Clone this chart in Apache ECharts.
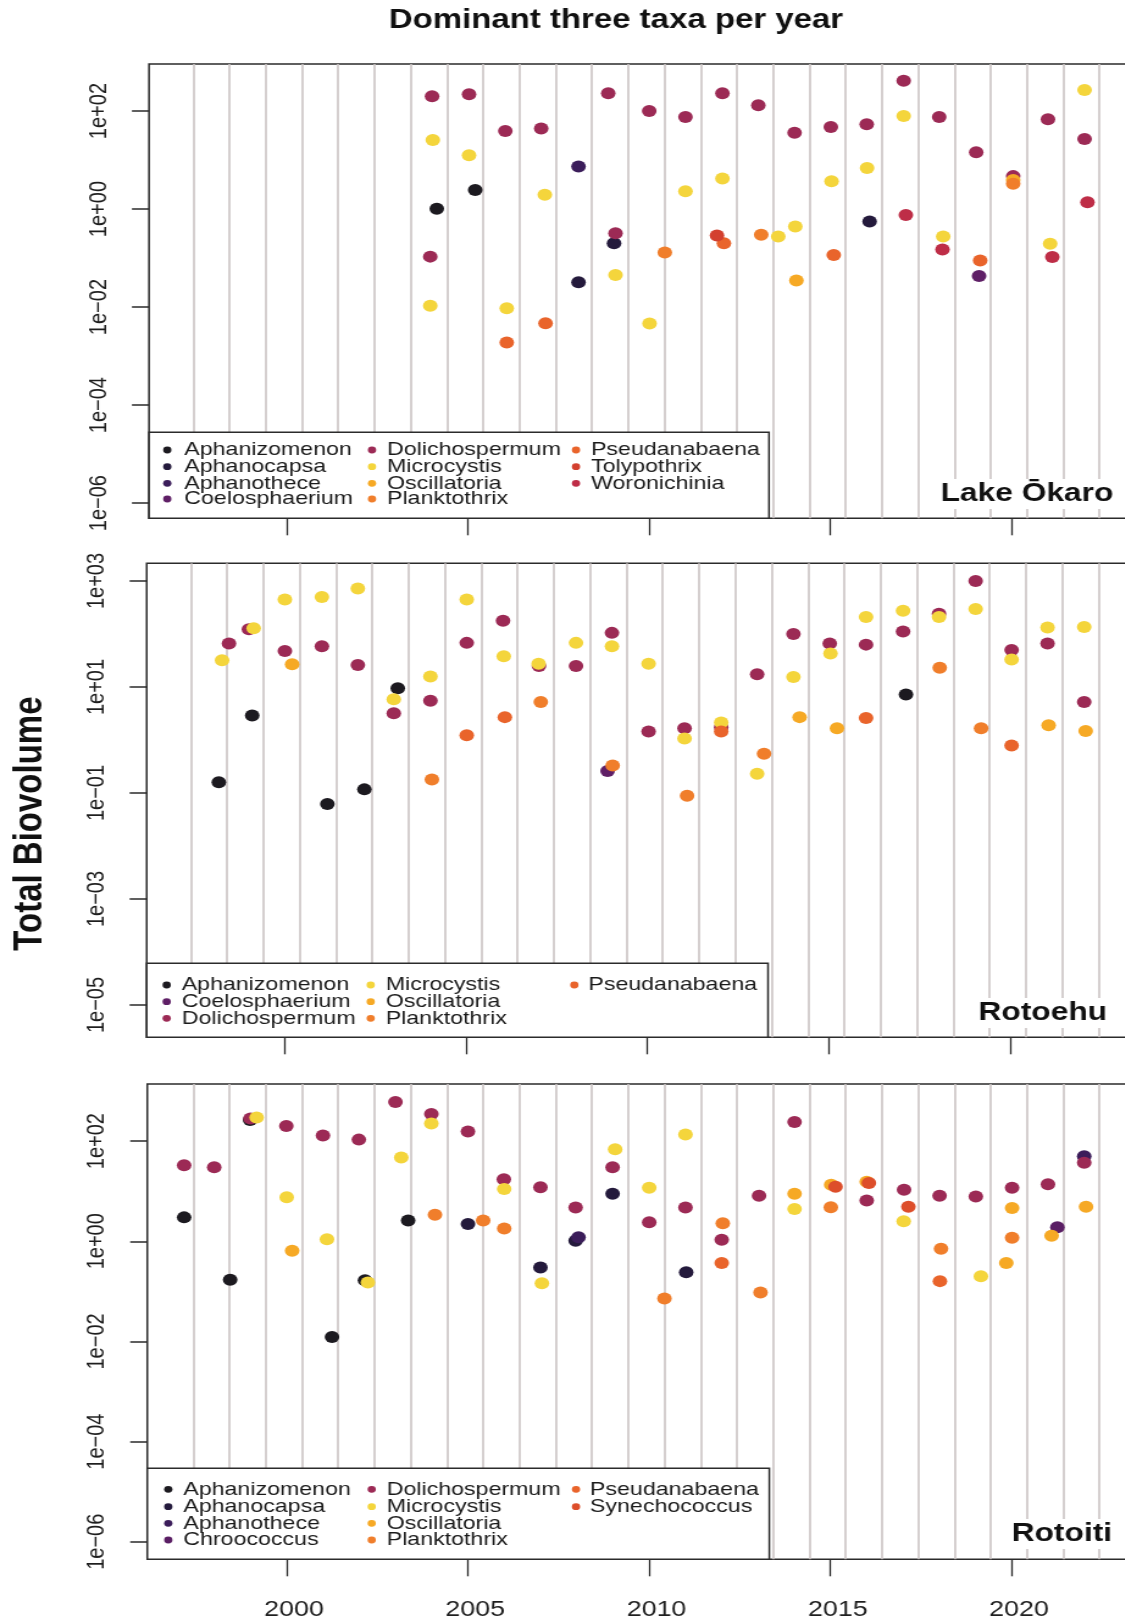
<!DOCTYPE html>
<html>
<head>
<meta charset="utf-8">
<script src="https://cdn.jsdelivr.net/npm/echarts@6/dist/echarts.min.js"></script>
<style>
  html, body { margin: 0; padding: 0; background: #fff; overflow: hidden; width: 1125px; height: 1624px; }
  #chart { position: absolute; left: 0; top: 0; height: 1624px; transform-origin: 0 0; }
</style>
</head>
<body>
<div id="chart"></div>
<script>
// ---------------- data: [year position, total biovolume] ----------------
const yearTicks = [2000, 2005, 2010, 2015, 2020];
const okaroTicks = [1e-6, 1e-4, 1e-2, 1, 1e2];
const rotoehuTicks = [1e-5, 1e-3, 1e-1, 10, 1e3];
const rotoitiTicks = [1e-6, 1e-4, 1e-2, 1, 1e2];

// Lake Ōkaro
const okaroAphanizomenon = [[2004.14, 1.02], [2005.2, 2.45]];
const okaroAphanocapsa = [[2008.05, 0.032], [2009.03, 0.2], [2016.08, 0.56]];
const okaroAphanothece = [[2008.05, 7.4]];
const okaroCoelosphaerium = [[2019.1, 0.043]];
const okaroDolichospermum = [[2004.01, 200], [2005.03, 220], [2006.03, 39], [2007.02, 44], [2008.87, 230],
  [2003.96, 0.107], [2009.07, 0.32], [2010.0, 100], [2011.0, 76], [2012.02, 230], [2013.01, 132],
  [2014.01, 36], [2015.01, 47], [2016.0, 54], [2017.02, 417], [2018.0, 76], [2019.02, 14.5],
  [2020.04, 4.7], [2021.0, 68], [2022.01, 27]];
const okaroMicrocystis = [[2004.03, 25.7], [2005.03, 12.6], [2007.12, 1.95], [2009.07, 0.045], [2003.96, 0.0107],
  [2006.07, 0.0095], [2010.01, 0.0046], [2011.0, 2.3], [2012.02, 4.2], [2013.56, 0.275], [2014.03, 0.44],
  [2015.03, 3.7], [2016.01, 6.9], [2017.02, 79], [2018.11, 0.275], [2021.06, 0.195], [2022.01, 270]];
const okaroOscillatoria = [[2014.06, 0.035], [2020.04, 3.9]];
const okaroPlanktothrix = [[2010.43, 0.13], [2013.09, 0.3], [2020.04, 3.3]];
const okaroPseudanabaena = [[2006.07, 0.0019], [2007.14, 0.0047], [2012.06, 0.2], [2015.09, 0.115], [2019.13, 0.089]];
const okaroTolypothrix = [[2011.87, 0.29]];
const okaroWoronichinia = [[2017.08, 0.76], [2018.09, 0.15], [2021.12, 0.105], [2022.09, 1.38]];

// Rotoehu
const rotoehuAphanizomenon = [[1998.19, 0.16], [1999.11, 2.9], [2001.18, 0.062], [2002.2, 0.117], [2003.12, 9.5], [2017.12, 7.2]];
const rotoehuCoelosphaerium = [[2008.9, 0.26]];
const rotoehuDolichospermum = [[1998.47, 66], [1999.02, 123], [2000.01, 48], [2001.03, 59], [2002.02, 26],
  [2003.01, 3.2], [2004.02, 5.5], [2005.02, 68], [2006.02, 178], [2007.01, 25], [2008.03, 25],
  [2009.02, 105], [2010.03, 1.45], [2011.02, 1.66], [2012.03, 1.74], [2013.02, 17.4], [2014.02, 100],
  [2015.02, 66], [2016.02, 63], [2017.04, 112], [2018.03, 240], [2019.04, 1000], [2020.03, 50],
  [2021.02, 66], [2022.03, 5.2]];
const rotoehuMicrocystis = [[1998.28, 32], [1999.15, 129], [2000.01, 447], [2001.03, 500], [2002.02, 724],
  [2003.01, 5.9], [2004.02, 15.8], [2005.02, 447], [2006.04, 38], [2007.0, 27.5], [2008.03, 68],
  [2009.02, 59], [2010.03, 27.5], [2011.02, 1.07], [2012.03, 2.14], [2013.02, 0.23], [2014.02, 15.5],
  [2015.04, 43], [2016.02, 209], [2017.04, 275], [2018.03, 209], [2019.04, 295], [2020.03, 33],
  [2021.02, 132], [2022.03, 135]];
const rotoehuOscillatoria = [[2000.21, 27], [2014.19, 2.7], [2015.22, 1.66], [2021.05, 1.9], [2022.07, 1.48]];
const rotoehuPlanktothrix = [[2004.06, 0.18], [2007.06, 5.2], [2009.04, 0.33], [2011.09, 0.089], [2013.21, 0.55],
  [2018.05, 23], [2019.19, 1.66]];
const rotoehuPseudanabaena = [[2005.02, 1.23], [2006.07, 2.7], [2012.03, 1.45], [2016.02, 2.6], [2020.03, 0.79]];

// Rotoiti
const rotoitiAphanizomenon = [[1997.17, 3.0], [1998.44, 0.17], [1998.99, 263], [2001.25, 0.0123], [2002.16, 0.166], [2003.35, 2.6]];
const rotoitiAphanocapsa = [[2005.0, 2.2], [2007.0, 0.3], [2007.97, 1.02], [2008.99, 8.9], [2011.02, 0.24]];
const rotoitiAphanothece = [[2008.05, 1.2], [2022.0, 50]];
const rotoitiChroococcus = [[2021.26, 1.9]];
const rotoitiDolichospermum = [[1997.17, 33], [1998.0, 30], [1999.0, 282], [1999.99, 200], [2001.0, 129],
  [2001.99, 107], [2003.0, 603], [2003.99, 347], [2005.0, 155], [2005.99, 17.4], [2007.0, 12],
  [2007.97, 4.7], [2008.99, 30], [2010.0, 2.4], [2011.0, 4.7], [2012.0, 1.07], [2013.03, 8.1],
  [2014.01, 240], [2016.0, 6.5], [2017.03, 10.7], [2018.01, 8.1], [2019.01, 7.8], [2020.01, 11.7],
  [2021.0, 13.8], [2022.0, 37]];
const rotoitiMicrocystis = [[1999.17, 295], [2000.0, 7.6], [2001.11, 1.1], [2002.24, 0.15], [2003.16, 47],
  [2003.99, 224], [2006.0, 11], [2007.04, 0.145], [2009.06, 69], [2010.0, 11.7], [2011.0, 135],
  [2014.01, 4.4], [2017.02, 2.5], [2019.15, 0.2]];
const rotoitiOscillatoria = [[2000.15, 0.65], [2014.01, 8.9], [2015.02, 13.5], [2016.0, 15.5], [2019.85, 0.37],
  [2020.01, 4.6], [2021.1, 1.29], [2022.05, 4.9]];
const rotoitiPlanktothrix = [[2004.09, 3.4], [2005.42, 2.6], [2006.0, 1.8], [2010.42, 0.072], [2012.03, 2.3],
  [2013.07, 0.095], [2015.01, 4.8], [2018.05, 0.71], [2020.01, 1.17]];
const rotoitiPseudanabaena = [[2012.0, 0.37], [2018.02, 0.16]];
const rotoitiSynechococcus = [[2015.14, 12.3], [2016.06, 14.5], [2017.15, 4.9]];

// taxa in legend order (column-major) for each lake
const okaroTaxa = [
  ['Aphanizomenon', okaroAphanizomenon], ['Aphanocapsa', okaroAphanocapsa], ['Aphanothece', okaroAphanothece],
  ['Coelosphaerium', okaroCoelosphaerium], ['Dolichospermum', okaroDolichospermum], ['Microcystis', okaroMicrocystis],
  ['Oscillatoria', okaroOscillatoria], ['Planktothrix', okaroPlanktothrix], ['Pseudanabaena', okaroPseudanabaena],
  ['Tolypothrix', okaroTolypothrix], ['Woronichinia', okaroWoronichinia]];
const rotoehuTaxa = [
  ['Aphanizomenon', rotoehuAphanizomenon], ['Coelosphaerium', rotoehuCoelosphaerium], ['Dolichospermum', rotoehuDolichospermum],
  ['Microcystis', rotoehuMicrocystis], ['Oscillatoria', rotoehuOscillatoria], ['Planktothrix', rotoehuPlanktothrix],
  ['Pseudanabaena', rotoehuPseudanabaena]];
const rotoitiTaxa = [
  ['Aphanizomenon', rotoitiAphanizomenon], ['Aphanocapsa', rotoitiAphanocapsa], ['Aphanothece', rotoitiAphanothece],
  ['Chroococcus', rotoitiChroococcus], ['Dolichospermum', rotoitiDolichospermum], ['Microcystis', rotoitiMicrocystis],
  ['Oscillatoria', rotoitiOscillatoria], ['Planktothrix', rotoitiPlanktothrix], ['Pseudanabaena', rotoitiPseudanabaena],
  ['Synechococcus', rotoitiSynechococcus]];

// ---------------- styling ----------------
const taxonColor = {
  Aphanizomenon: '#1c1a20', Aphanocapsa: '#241a3c', Aphanothece: '#3b1d5a', Coelosphaerium: '#5f1f66',
  Chroococcus: '#5a1e64', Dolichospermum: '#9c2a55', Microcystis: '#f4d53c', Oscillatoria: '#f6a925',
  Planktothrix: '#f07e2b', Pseudanabaena: '#e9642b', Tolypothrix: '#d3402f', Synechococcus: '#dd4e2a',
  Woronichinia: '#be2d47'
};

// the figure is drawn narrow and stretched horizontally by S
const S = 1.22;
const OUTER_W = 1160;        // drawing width after stretching (wider than the window)
const PLOT_RIGHT = 1140;     // right frame edge, off-screen
const FONT = '"Liberation Sans", Arial, sans-serif';

const panels = [
  { name: 'Lake Ōkaro', taxa: okaroTaxa, ticks: okaroTicks, rows: 4,
    left: 149, top: 64, bottom: 518.3, x2000: 286.7, ppy: 36.25, logMin: -6.31, logMax: 2.96,
    legendTop: 432.3, legendRight: 769, rowY: [450, 466.7, 483.3, 499],
    markerX: [167.3, 372, 576], textX: [184.3, 387, 591], labelRight: 1117, labelY: 494 },
  { name: 'Rotoehu', taxa: rotoehuTaxa, ticks: rotoehuTicks, rows: 3,
    left: 146.7, top: 563.3, bottom: 1037.3, x2000: 284.5, ppy: 36.3, logMin: -5.61, logMax: 3.334,
    legendTop: 963.3, legendRight: 768, rowY: [985, 1001.7, 1018.3],
    markerX: [166.7, 370.7, 574.3], textX: [181.7, 385.7, 588.3], labelRight: 1110.7, labelY: 1013 },
  { name: 'Rotoiti', taxa: rotoitiTaxa, ticks: rotoitiTicks, rows: 4,
    left: 147.3, top: 1084, bottom: 1559.3, x2000: 286.7, ppy: 36.25, logMin: -6.35, logMax: 3.14,
    legendTop: 1468.3, legendRight: 769.3, rowY: [1489.3, 1506.7, 1523.3, 1540],
    markerX: [168.3, 371.7, 576], textX: [183.3, 386.7, 590], labelRight: 1115.7, labelY: 1534 }
];

// year separators drawn as vertical grid lines
const separatorYears = [];
for (let y = 1997; y <= 2022; y++) separatorYears.push(y + 0.42);

function sciLabel(v) {
  const e = Math.round(Math.log10(v));
  return '1e' + (e < 0 ? '\u2212' : '+') + String(Math.abs(e)).padStart(2, '0');
}

const el = document.getElementById('chart');
el.style.width = (OUTER_W / S) + 'px';
el.style.transform = 'scaleX(' + S + ')';

const grid = [], xAxis = [], yAxis = [], series = [], graphic = [];

panels.forEach((p, i) => {
  const xMin = 2000 - (p.x2000 - p.left) / p.ppy;
  const xMax = 2000 + (PLOT_RIGHT - p.x2000) / p.ppy;
  grid.push({
    left: p.left / S, top: p.top, width: (PLOT_RIGHT - p.left) / S, height: p.bottom - p.top,
    show: true, borderColor: '#2b2b2b', borderWidth: 1.5, backgroundColor: 'transparent',
    containLabel: false, outerBoundsMode: 'none'
  });
  xAxis.push({
    gridIndex: i, type: 'value', min: xMin, max: xMax, position: 'bottom',
    axisLine: { show: false },
    axisTick: { show: true, inside: false, length: 17, customValues: yearTicks,
      lineStyle: { color: '#2b2b2b', width: 1.3 } },
    axisLabel: { show: i === 2, customValues: yearTicks, margin: 40, fontSize: 22, color: '#1e1e1e',
      fontFamily: FONT, padding: [0, 0, 0, 12], formatter: v => String(Math.round(v)) },
    splitLine: { show: false }
  });
  xAxis.push({
    gridIndex: i, type: 'value', min: xMin, max: xMax, position: 'top',
    axisLine: { show: false },
    axisTick: { show: false, customValues: separatorYears },
    axisLabel: { show: false },
    splitLine: { show: true, lineStyle: { color: '#cbc4c4', width: 1.6 } }
  });
  yAxis.push({
    gridIndex: i, type: 'log', logBase: 10,
    min: Math.pow(10, p.logMin), max: Math.pow(10, p.logMax),
    axisLine: { show: false },
    axisTick: { show: true, inside: false, length: 14, customValues: p.ticks,
      lineStyle: { color: '#2b2b2b', width: 1.5 } },
    axisLabel: { customValues: p.ticks, rotate: 90, margin: 31, fontSize: 20, color: '#1e1e1e',
      fontFamily: FONT, formatter: sciLabel },
    splitLine: { show: false }
  });

  p.taxa.forEach(([taxon, pts]) => {
    series.push({
      type: 'scatter', name: taxon, xAxisIndex: 2 * i, yAxisIndex: i,
      data: pts, symbol: 'circle', symbolSize: 12,
      itemStyle: { color: taxonColor[taxon], opacity: 1 },
      silent: true, z: 3
    });
  });

  // legend box
  graphic.push({
    type: 'rect', z: 50,
    shape: { x: p.left / S, y: p.legendTop, width: (p.legendRight - p.left) / S, height: p.bottom - p.legendTop },
    style: { fill: '#ffffff', stroke: '#2b2b2b', lineWidth: 1.5 }
  });
  p.taxa.forEach(([taxon], k) => {
    const col = Math.floor(k / p.rows), row = k % p.rows;
    const y = p.rowY[row];
    graphic.push({ type: 'circle', z: 51,
      shape: { cx: p.markerX[col] / S, cy: y, r: 3.4 },
      style: { fill: taxonColor[taxon] } });
    graphic.push({ type: 'text', z: 51, x: p.textX[col] / S, y: y,
      style: { text: taxon, font: '19px ' + FONT, fill: '#1a1a1a',
        textAlign: 'left', align: 'left', textVerticalAlign: 'middle', verticalAlign: 'middle' } });
  });

  // lake name
  graphic.push({ type: 'text', z: 52, x: p.labelRight / S, y: p.labelY,
    style: { text: p.name, font: 'bold 26px ' + FONT, fill: '#111',
      textAlign: 'right', align: 'right', textVerticalAlign: 'middle', verticalAlign: 'middle',
      backgroundColor: '#ffffff', padding: [2, 3, 2, 3] } });
});

// figure title and shared axis title
graphic.push({ type: 'text', z: 52, x: 616 / S, y: 21,
  style: { text: 'Dominant three taxa per year', font: 'bold 27px ' + FONT, fill: '#111',
    textAlign: 'center', align: 'center', textVerticalAlign: 'middle', verticalAlign: 'middle' } });
graphic.push({ type: 'text', z: 52, x: 30 / S, y: 823.6, rotation: Math.PI / 2,
  style: { text: 'Total Biovolume', font: 'bold 33px ' + FONT, fill: '#111',
    textAlign: 'center', align: 'center', textVerticalAlign: 'middle', verticalAlign: 'middle' } });

const chart = echarts.init(el, null, { renderer: 'canvas' });
chart.setOption({
  animation: false,
  backgroundColor: '#ffffff',
  grid, xAxis, yAxis, series, graphic
});
</script>
</body>
</html>
